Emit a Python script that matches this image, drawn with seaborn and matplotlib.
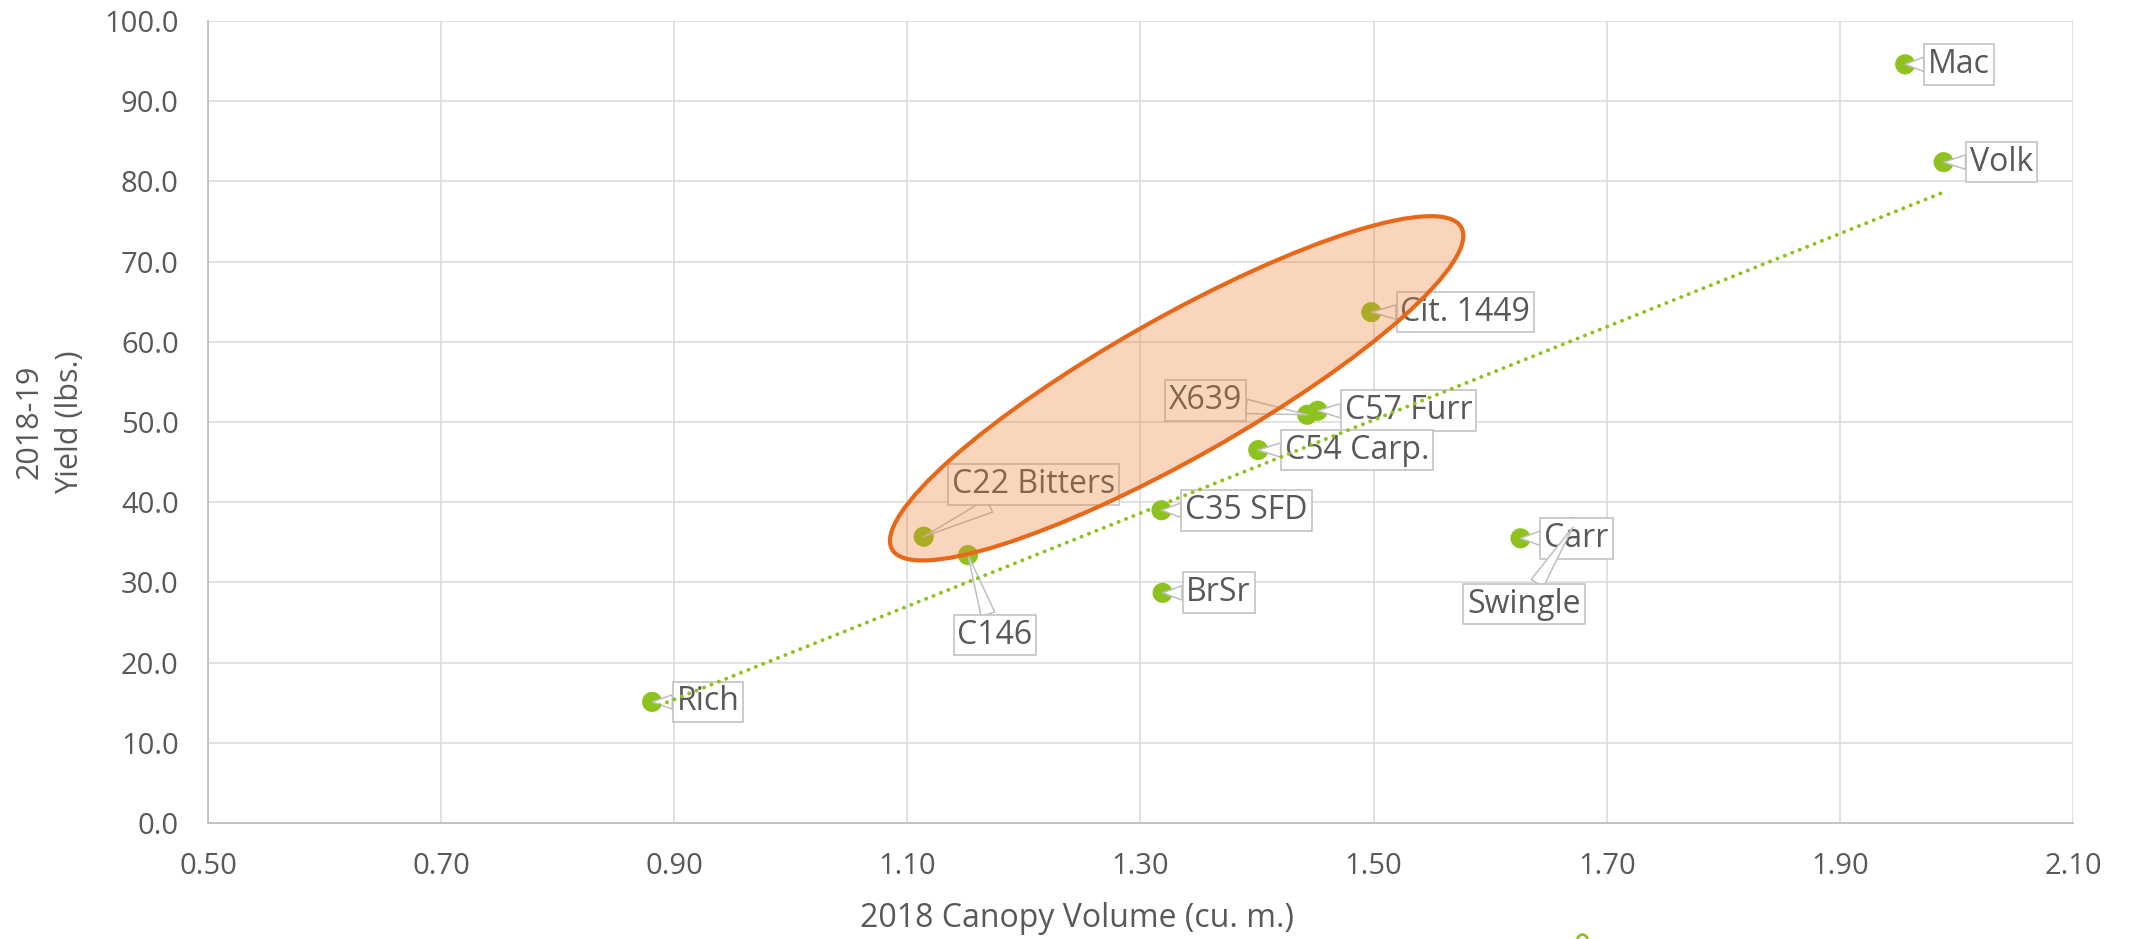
import numpy as np
import pandas as pd
import seaborn as sns
import matplotlib
matplotlib.use("Agg")
from matplotlib import pyplot as plt
from matplotlib import transforms as mtransforms
from matplotlib.patches import Ellipse
from matplotlib.ticker import FormatStrFormatter

# data
rootstocks = ["Mac", "Volk", "Cit. 1449", "X639", "C57 Furr", "C54 Carp.",
              "C35 SFD", "BrSr", "Carr", "Swingle", "C22 Bitters", "C146",
              "Rich"]
canopy = [1.956, 1.989, 1.498, 1.443, 1.452, 1.401,
          1.318, 1.319, 1.626, 1.671, 1.114, 1.152, 0.881]
yield_lbs = [94.6, 82.4, 63.7, 50.9, 51.4, 46.5,
             39.0, 28.7, 35.5, 36.9, 35.7, 33.4, 15.1]

df = pd.DataFrame({"name": rootstocks, "canopy": canopy, "yield": yield_lbs})

# callout offsets in pixels (dx right, dy up)
label_offsets = {
    "Mac": (54, 0), "Volk": (58, 0), "Cit. 1449": (94, 0),
    "X639": (-102, 14), "C57 Furr": (91, 0), "C54 Carp.": (99, 0),
    "C35 SFD": (85, 0), "BrSr": (56, 0), "Carr": (56, 0),
    "Swingle": (-49, -77), "C22 Bitters": (110, 52), "C146": (27, -80),
    "Rich": (56, 0),
}

GREEN = "#8DC21F"
GREY_TXT = "#595959"

sns.set_style("white")
plt.rcParams["font.family"] = ["Open Sans", "DejaVu Sans"]

fig = plt.figure(figsize=(21.34, 9.39), dpi=100)
ax = fig.add_axes([208 / 2134, 1 - 823 / 939, 1865 / 2134, 802 / 939])

sns.scatterplot(data=df, x="canopy", y="yield", ax=ax, color=GREEN,
                s=210, edgecolor="none", zorder=3, legend=False)

for _, row in df.iterrows():
    dx, dy = label_offsets[row["name"]]
    ax.annotate(row["name"], xy=(row["canopy"], row["yield"]),
                xytext=(dx, dy), textcoords="offset pixels",
                ha="center", va="center", fontsize=23, color=GREY_TXT,
                zorder=4,
                bbox=dict(boxstyle="square,pad=0.12", fc="white",
                          ec="#BFBFBF", lw=1.1),
                arrowprops=dict(arrowstyle="wedge,tail_width=0.45",
                                fc="white", ec="#BFBFBF", lw=1.1,
                                shrinkA=0, shrinkB=0))

# trendline (linear fit over all points), drawn over the labels
sns.regplot(data=df, x="canopy", y="yield", ax=ax, scatter=False, ci=None,
            line_kws=dict(color=GREEN, lw=2.8, ls=(0, (0.05, 2.0)),
                          dash_capstyle="round", zorder=4.5))

# highlight ellipse
ell_tr = fig.dpi_scale_trans + mtransforms.ScaledTranslation(1.331, 54.2, ax.transData)
ax.add_patch(Ellipse((0, 0), 6.54, 1.40, angle=29.5, transform=ell_tr,
                     fc=(237 / 255, 125 / 255, 49 / 255, 0.32),
                     ec="#E8681A", lw=3.0, zorder=5))

ax.set_xlim(0.5, 2.1)
ax.set_ylim(0, 100)
ax.set_xticks(np.arange(0.5, 2.11, 0.2))
ax.set_yticks(np.arange(0, 101, 10))
ax.xaxis.set_major_formatter(FormatStrFormatter("%.2f"))
ax.yaxis.set_major_formatter(FormatStrFormatter("%.1f"))
ax.tick_params(length=0, pad=21, labelsize=21, labelcolor=GREY_TXT)
ax.grid(True, color="#D9D9D9", lw=1.1)
ax.set_axisbelow(True)
for side in ["top", "right"]:
    ax.spines[side].set_visible(False)
for side in ["left", "bottom"]:
    ax.spines[side].set_color("#BFBFBF")
    ax.spines[side].set_linewidth(1.3)

ax.set_xlabel("2018 Canopy Volume (cu. m.)", fontsize=23, color=GREY_TXT)
ax.xaxis.set_label_coords(0.466, -0.098)
ax.set_ylabel("2018-19\nYield (lbs.)", fontsize=22, color=GREY_TXT,
              linespacing=1.45)
ax.yaxis.set_label_coords(-0.066, 0.5)

# stray marker at the bottom edge of the original
ax.plot([1582 / 2134], [0.0], transform=fig.transFigure, marker="o",
        ms=7, mfc="white", mec=GREEN, mew=2, clip_on=False, zorder=6)

fig.savefig("out.png", dpi=100)
